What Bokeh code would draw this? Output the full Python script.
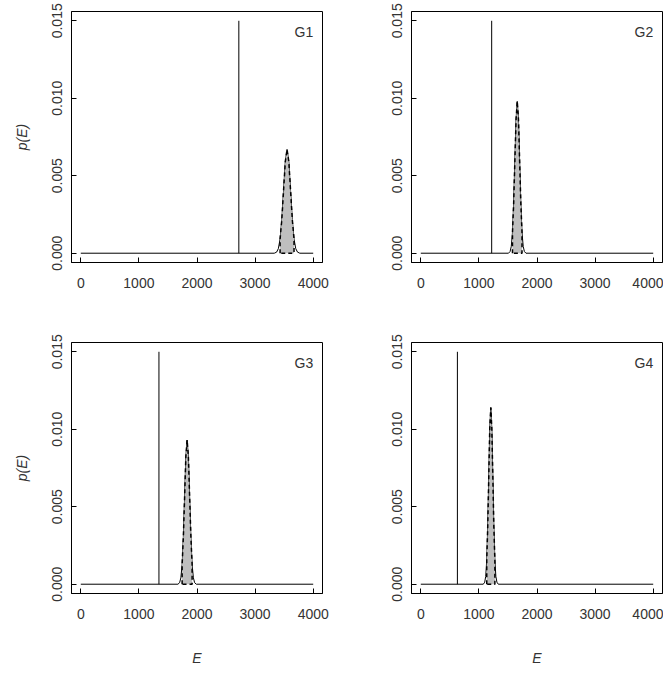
import numpy as np
from bokeh.plotting import figure
from bokeh.layouts import column, row
from bokeh.models import FixedTicker, PrintfTickFormatter, Range1d, Label
from bokeh.embed import file_html
from bokeh.resources import INLINE

# ---- data ----
panel_names = ["G1", "G2", "G3", "G4"]
observed_E = [2720, 1220, 1345, 630]   # vertical line positions

g1_E = [3330, 3370, 3400, 3430, 3460, 3490, 3520, 3550, 3580, 3610, 3640, 3670, 3700, 3730, 3770]
g1_p = [0.0, 0.00007, 0.00029, 0.00091, 0.00218, 0.00406, 0.00591, 0.0067,
        0.00591, 0.00406, 0.00218, 0.00091, 0.00029, 0.00007, 0.0]
g2_E = [1510, 1537, 1557, 1578, 1598, 1619, 1640, 1660, 1681, 1701, 1722, 1742, 1763, 1783, 1810]
g2_p = [0.0, 0.00011, 0.00043, 0.00133, 0.00318, 0.00594, 0.00865, 0.0098,
        0.00865, 0.00594, 0.00318, 0.00133, 0.00043, 0.00011, 0.0]
g3_E = [1672, 1701, 1722, 1744, 1765, 1787, 1808, 1830, 1852, 1873, 1895, 1916, 1938, 1959, 1988]
g3_p = [0.0, 0.0001, 0.00041, 0.00126, 0.00302, 0.00564, 0.00821, 0.0093,
        0.00821, 0.00564, 0.00302, 0.00126, 0.00041, 0.0001, 0.0]
g4_E = [1076, 1100, 1117, 1135, 1152, 1170, 1187, 1205, 1222, 1240, 1257, 1275, 1292, 1310, 1334]
g4_p = [0.0, 0.00013, 0.0005, 0.00154, 0.0037, 0.00691, 0.01006, 0.0114,
        0.01006, 0.00691, 0.0037, 0.00154, 0.0005, 0.00013, 0.0]

E_min, E_max = 0, 4000
x_ticks = [0, 1000, 2000, 3000, 4000]
y_ticks = [0.0, 0.005, 0.010, 0.015]
line_top = 0.015

curves_E = [g1_E, g2_E, g3_E, g4_E]
curves_p = [g1_p, g2_p, g3_p, g4_p]

FONT = "Liberation Sans"
TXT = "#333333"


def make_panel(i, width, height, left, right, top, bottom, ylab, xlab):
    p = figure(width=width, height=height, output_backend="svg", toolbar_location=None,
               min_border_left=left, min_border_right=right,
               min_border_top=top, min_border_bottom=bottom,
               x_range=Range1d(E_min - 160, E_max + 160),
               y_range=Range1d(-0.0006, 0.0156))
    p.xgrid.visible = False
    p.ygrid.visible = False
    p.outline_line_color = "black"
    p.outline_line_width = 1
    p.background_fill_color = "white"
    p.border_fill_color = "white"

    for ax in (p.xaxis[0], p.yaxis[0]):
        ax.major_tick_in = 5
        ax.major_tick_out = 0
        ax.minor_tick_in = 0
        ax.minor_tick_out = 0
        ax.axis_line_color = "black"
        ax.major_tick_line_color = "black"
        ax.major_label_text_font = FONT
        ax.major_label_text_font_size = "14px"
        ax.major_label_text_color = TXT
        ax.axis_label_text_font = FONT
        ax.axis_label_text_font_size = "14px"
        ax.axis_label_text_font_style = "italic"
        ax.axis_label_text_color = TXT

    p.xaxis.ticker = FixedTicker(ticks=x_ticks)
    p.yaxis.ticker = FixedTicker(ticks=y_ticks)
    p.yaxis.formatter = PrintfTickFormatter(format="%.3f")
    p.yaxis.major_label_orientation = "vertical"
    p.xaxis.major_label_standoff = 15
    p.yaxis.major_label_standoff = 9
    if ylab:
        p.yaxis.axis_label = "p(E)"
        p.yaxis.axis_label_standoff = 20
    if xlab:
        p.xaxis.axis_label = "E"
        p.xaxis.axis_label_standoff = 28

    ce = curves_E[i]
    cp = curves_p[i]
    xs = [E_min] + ce + [E_max]
    ys = [0.0] + cp + [0.0]
    p.line(xs, ys, line_color="black", line_width=1)

    # shaded central region (k = -2 .. +2)
    se = ce[3:12]
    sp = cp[3:12]
    px = [se[0]] + se + [se[-1]]
    py = [0.0] + sp + [0.0]
    p.patch(px, py, fill_color="#BEBEBE", line_color="black",
            line_width=1.5, line_dash="4 3")

    p.segment(x0=[observed_E[i]], y0=[0.0], x1=[observed_E[i]], y1=[line_top],
              line_color="black", line_width=1)

    p.add_layout(Label(x=E_max, y=0.0143, text=panel_names[i], text_align="right",
                       text_baseline="middle", text_font=FONT, text_font_size="14px",
                       text_color=TXT))
    return p


p1 = make_panel(0, 348, 330, 71, 26, 11, 68, True, False)
p2 = make_panel(1, 315, 330, 63, 1, 11, 68, False, False)
p3 = make_panel(2, 348, 338, 71, 26, 12, 75, True, True)
p4 = make_panel(3, 315, 338, 63, 1, 12, 75, False, True)

layout = column(row(p1, p2), row(p3, p4))
open("out.html", "w").write(file_html(layout, INLINE))
